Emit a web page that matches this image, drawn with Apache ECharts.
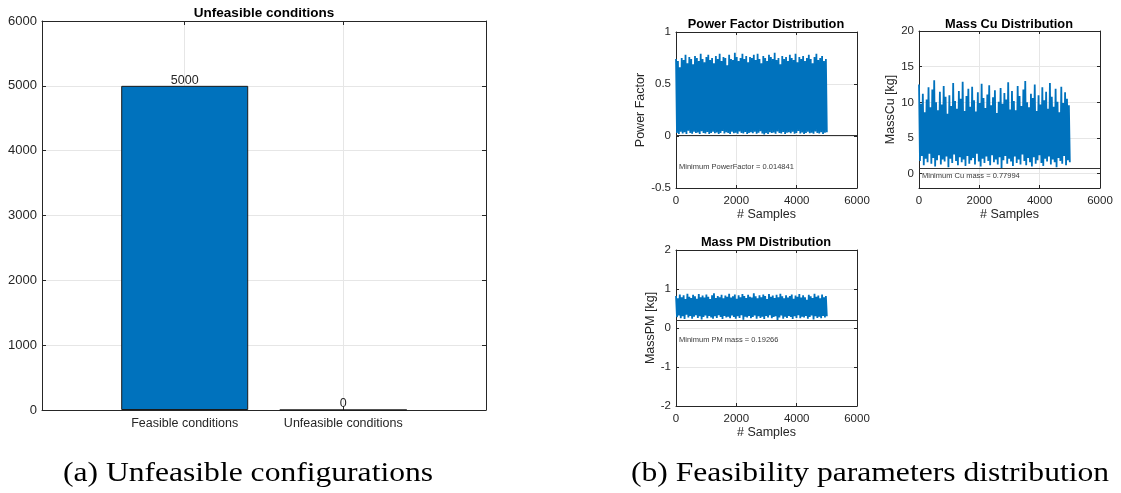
<!DOCTYPE html>
<html><head><meta charset="utf-8">
<script src="https://cdn.jsdelivr.net/npm/echarts@6/dist/echarts.min.js"></script>
<style>html,body{margin:0;padding:0;background:#fff}#c{width:1121px;height:493px}</style>
</head><body><div id="c"></div>
<script>
// ---- data ----
const categories = ['Feasible conditions', 'Unfeasible conditions'];
const counts = [5000, 0];
const nSamples = 5000;

const pfPeaks = [0.74,0.72,0.66,0.75,0.73,0.78,0.70,0.76,0.74,0.69,0.77,0.75,0.72,0.79,0.74,0.71,0.76,0.78,0.73,0.75,
0.70,0.77,0.74,0.79,0.72,0.76,0.75,0.68,0.78,0.74,0.73,0.80,0.76,0.72,0.75,0.79,0.74,0.77,0.71,0.76,
0.75,0.78,0.73,0.79,0.74,0.70,0.77,0.75,0.72,0.78,0.76,0.74,0.80,0.73,0.75,0.69,0.77,0.74,0.76,0.72,
0.78,0.75,0.73,0.79,0.71,0.76,0.74,0.77,0.72,0.75,0.78,0.74,0.70,0.76,0.79,0.73,0.75,0.77,0.72,0.74];
const pfTroughs = [0.03,0.02,0.04,0.025,0.035,0.02,0.05,0.03,0.022,0.04,0.028,0.033,0.02,0.045,0.03,0.025,0.038,0.02,0.03,0.042,
0.026,0.034,0.02,0.03,0.048,0.024,0.036,0.03,0.02,0.04,0.027,0.032,0.021,0.044,0.03,0.025,0.038,0.02,0.03,0.035,
0.026,0.04,0.022,0.031,0.046,0.024,0.015,0.03,0.02,0.037,0.028,0.033,0.021,0.043,0.03,0.025,0.039,0.02,0.031,0.036,
0.027,0.041,0.022,0.03,0.047,0.025,0.034,0.02,0.029,0.04,0.026,0.032,0.021,0.044,0.03,0.024,0.037,0.02,0.031,0.035];

const cuPeaks = [12.5,9.8,11.2,8.6,10.4,12.1,9.3,11.8,13.1,10.0,8.9,11.5,9.7,12.3,10.8,8.4,11.0,9.5,12.7,10.2,
9.1,11.6,10.5,12.9,8.8,10.9,11.9,9.4,12.2,10.3,8.7,11.4,9.9,12.6,10.6,9.2,11.1,12.4,9.6,10.7,
11.7,8.5,10.1,12.0,9.8,11.3,10.4,12.8,9.0,11.6,10.2,8.9,12.3,10.9,9.5,11.8,13.0,10.0,9.3,11.2,
10.6,12.5,8.8,11.0,9.7,12.1,10.3,11.5,9.1,12.7,10.8,9.4,11.9,10.1,8.6,12.2,9.9,11.4,10.5,9.6];
const cuTroughs = [1.8,2.5,1.2,2.1,1.6,2.8,1.4,2.2,1.0,1.9,2.6,1.3,2.0,1.7,2.4,0.9,2.1,1.5,2.7,1.8,
1.2,2.3,1.6,2.0,1.1,2.5,1.4,1.9,2.2,1.3,2.8,1.7,1.0,2.1,1.5,2.4,1.8,1.2,2.6,1.6,
2.0,1.3,2.3,0.8,1.9,2.5,1.4,2.1,1.7,1.1,2.4,1.5,2.0,1.3,2.7,1.8,1.2,2.2,1.6,1.0,
2.3,1.4,1.9,2.6,1.5,1.1,2.1,1.7,2.4,1.3,2.0,1.6,0.9,2.2,1.8,1.4,2.5,1.2,1.9,1.6];

const pmPeaks = [0.82,0.76,0.86,0.79,0.84,0.74,0.88,0.80,0.77,0.85,0.81,0.75,0.87,0.79,0.83,0.78,0.86,0.80,0.74,0.84,
0.89,0.77,0.82,0.79,0.85,0.76,0.83,0.80,0.88,0.78,0.81,0.86,0.75,0.84,0.79,0.87,0.82,0.77,0.85,0.80,
0.78,0.89,0.81,0.76,0.84,0.79,0.86,0.82,0.74,0.87,0.80,0.83,0.77,0.85,0.79,0.88,0.81,0.76,0.84,0.78,
0.82,0.86,0.75,0.83,0.80,0.87,0.78,0.84,0.79,0.72,0.85,0.81,0.77,0.88,0.80,0.83,0.76,0.86,0.79,0.82];
const pmTroughs = [0.28,0.32,0.25,0.30,0.23,0.34,0.27,0.31,0.24,0.29,0.33,0.26,0.30,0.22,0.28,0.32,0.25,0.31,0.27,0.24,
0.30,0.26,0.33,0.28,0.23,0.31,0.27,0.29,0.25,0.32,0.28,0.24,0.30,0.26,0.33,0.21,0.29,0.27,0.31,0.25,
0.28,0.32,0.24,0.30,0.26,0.29,0.23,0.31,0.27,0.33,0.25,0.28,0.30,0.19,0.27,0.32,0.24,0.29,0.26,0.31,
0.28,0.23,0.30,0.26,0.33,0.25,0.29,0.27,0.31,0.24,0.28,0.32,0.22,0.30,0.26,0.29,0.25,0.31,0.27,0.30];

const minPF = 0.014841;
const minCu = 0.77994;
const minPM = 0.19266;

const sampleTicks = [0, 2000, 4000, 6000];
const pfTicks = [-0.5, 0, 0.5, 1];
const cuTicks = [0, 5, 10, 15, 20];
const pmTicks = [-2, -1, 0, 1, 2];
const countTicks = [0, 1000, 2000, 3000, 4000, 5000, 6000];

// ---- build ----
function interleave(peaks, troughs) {
  const out = [];
  const n = peaks.length * 2;
  for (let i = 0; i < peaks.length; i++) {
    out.push(peaks[i]);
    out.push(troughs[i]);
  }
  return out.map((v, k) => [1 + k * (nSamples - 1) / (n - 1), v]);
}

const DARK = '#262626';
const GRIDC = '#e6e6e6';
const BLUE = '#0072BD';
const FONT = '"Liberation Sans", Arial, sans-serif';

function xAx(gi, min, max, ticks, opts) {
  opts = opts || {};
  return [{
    type: 'value', gridIndex: gi, position: 'bottom', min: min, max: max,
    axisLine: {show: true, onZero: false, lineStyle: {color: DARK, width: 1}},
    axisTick: {show: true, inside: true, length: opts.tl || 3, customValues: ticks, lineStyle: {color: DARK}},
    axisLabel: {show: true, customValues: ticks, color: DARK, fontFamily: FONT, fontSize: opts.fs || 11.5, margin: opts.margin || 7,
      formatter: opts.formatter || (v => String(v))},
    splitLine: {show: true, lineStyle: {color: GRIDC, width: 1}},
    name: opts.name || '', nameLocation: 'middle', nameGap: opts.nameGap || 18,
    nameTextStyle: {color: DARK, fontFamily: FONT, fontSize: 12.5}
  }, {
    type: 'value', gridIndex: gi, position: 'top', min: min, max: max,
    axisLine: {show: true, onZero: false, lineStyle: {color: DARK, width: 1}},
    axisTick: {show: true, inside: true, length: opts.tl || 3, customValues: ticks, lineStyle: {color: DARK}},
    axisLabel: {show: false}, splitLine: {show: false}
  }];
}
function yAx(gi, min, max, ticks, opts) {
  opts = opts || {};
  return [{
    type: 'value', gridIndex: gi, position: 'left', min: min, max: max,
    axisLine: {show: true, onZero: false, lineStyle: {color: DARK, width: 1}},
    axisTick: {show: true, inside: true, length: opts.tl || 3, customValues: ticks, lineStyle: {color: DARK}},
    axisLabel: {show: true, customValues: ticks, color: DARK, fontFamily: FONT, fontSize: opts.fs || 11.5, margin: opts.margin || 5,
      formatter: v => String(v)},
    splitLine: {show: true, lineStyle: {color: GRIDC, width: 1}},
    name: opts.name || '', nameLocation: 'middle', nameGap: opts.nameGap || 25, nameRotate: 90,
    nameTextStyle: {color: DARK, fontFamily: FONT, fontSize: 12.5}
  }, {
    type: 'value', gridIndex: gi, position: 'right', min: min, max: max,
    axisLine: {show: true, onZero: false, lineStyle: {color: DARK, width: 1}},
    axisTick: {show: true, inside: true, length: opts.tl || 3, customValues: ticks, lineStyle: {color: DARK}},
    axisLabel: {show: false}, splitLine: {show: false}
  }];
}

const grids = [
  {left: 42, top: 21, width: 444, height: 389},
  {left: 676, top: 32, width: 181, height: 156},
  {left: 919, top: 31, width: 181, height: 157},
  {left: 676, top: 250, width: 181, height: 156}
].map(g => Object.assign({outerBoundsMode: 'none', containLabel: false}, g));

const xAxes = [].concat(
  xAx(0, 0.1, 2.9, [1, 2], {fs: 12.5, margin: 7, tl: 4, formatter: v => categories[Math.round(v) - 1]}),
  xAx(1, 0, 6000, sampleTicks, {name: '# Samples', nameGap: 19, margin: 7}),
  xAx(2, 0, 6000, sampleTicks, {name: '# Samples', nameGap: 19, margin: 7}),
  xAx(3, 0, 6000, sampleTicks, {name: '# Samples', nameGap: 19, margin: 7})
);
const yAxes = [].concat(
  yAx(0, 0, 6000, countTicks, {fs: 13, margin: 5, tl: 4}),
  yAx(1, -0.5, 1, pfTicks, {name: 'Power Factor', nameGap: 24}),
  yAx(2, -2, 20, cuTicks, {name: 'MassCu [kg]', nameGap: 18}),
  yAx(3, -2, 2, pmTicks, {name: 'MassPM [kg]', nameGap: 17})
);

function distSeries(gi, data, minV, label) {
  return [{
    type: 'line', xAxisIndex: gi * 2, yAxisIndex: gi * 2, data: data,
    symbol: 'none', showSymbol: false, sampling: false, silent: true,
    lineStyle: {color: BLUE, width: 1.8}, z: 3,
    markLine: {silent: true, symbol: ['none', 'none'], animation: false,
      label: {show: false}, lineStyle: {color: '#333333', width: 1, type: 'solid'},
      data: [{yAxis: minV}]}
  }, {
    type: 'scatter', xAxisIndex: gi * 2, yAxisIndex: gi * 2, data: [[100, -0.3]],
    symbolSize: 0, silent: true,
    label: {show: true, position: [0, 0], align: 'left', verticalAlign: 'middle',
      formatter: label + ' = ' + minV, color: '#000', fontFamily: FONT, fontSize: 7.5}
  }];
}

const series = [].concat(
  [{
    type: 'bar', xAxisIndex: 0, yAxisIndex: 0,
    data: counts.map((v, i) => [i + 1, v]), barWidth: 127,
    itemStyle: {color: BLUE, borderColor: '#1a1a1a', borderWidth: 1},
    label: {show: true, position: 'top', distance: -1, color: DARK, fontFamily: FONT, fontSize: 12.5}
  }],
  distSeries(1, interleave(pfPeaks, pfTroughs), minPF, 'Minimum PowerFactor'),
  distSeries(2, interleave(cuPeaks, cuTroughs), minCu, 'Minimum Cu mass'),
  distSeries(3, interleave(pmPeaks, pmTroughs), minPM, 'Minimum PM mass')
);

function t(text, x, y, font, extra) {
  return Object.assign({type: 'text', x: x, y: y, silent: true,
    style: {text: text, font: font, align: 'center', verticalAlign: 'middle', fill: '#000'}}, extra || {});
}
const graphics = [
  t('Unfeasible conditions', 264, 13, 'bold 13.5px ' + FONT),
  t('Power Factor Distribution', 766, 24, 'bold 12.8px ' + FONT),
  t('Mass Cu Distribution', 1009, 24, 'bold 12.8px ' + FONT),
  t('Mass PM Distribution', 766, 242, 'bold 12.8px ' + FONT),
  t('(a) Unfeasible configurations', 248, 474, '27px "Liberation Serif", serif', {scaleX: 1.17}),
  t('(b) Feasibility parameters distribution', 870, 474, '27px "Liberation Serif", serif', {scaleX: 1.17})
];

const chart = echarts.init(document.getElementById('c'), null, {renderer: 'canvas'});
chart.setOption({
  animation: false,
  backgroundColor: '#ffffff',
  grid: grids, xAxis: xAxes, yAxis: yAxes, series: series, graphic: graphics
});
</script></body></html>
